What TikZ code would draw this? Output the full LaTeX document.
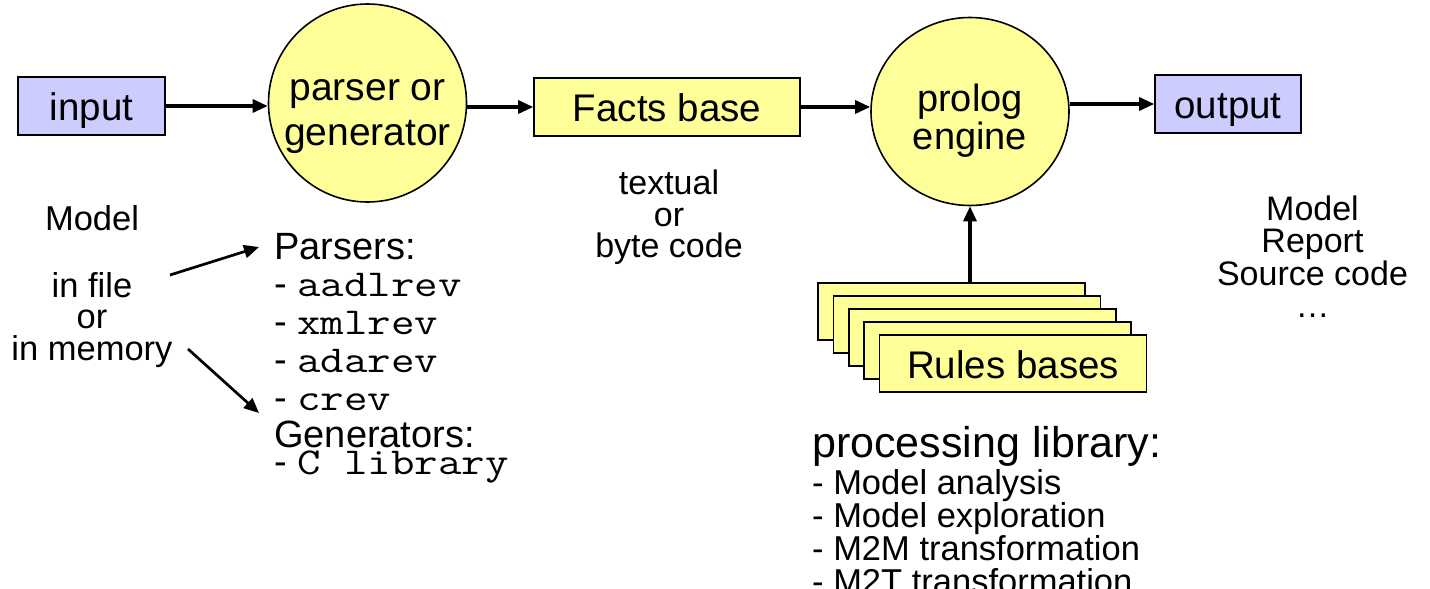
\documentclass[tikz,border=0pt]{standalone}
\usepackage{fontspec}
\usepackage{graphicx}
\setmainfont{Liberation Sans}
\usetikzlibrary{arrows.meta,shapes.geometric}
\definecolor{boxyellow}{HTML}{FFFF99}
\definecolor{boxblue}{HTML}{CCCCFF}
% typewriter names, widened to the usual 0.6em pitch
\newcommand{\prog}[1]{\scalebox{1.2}[1]{\ttfamily #1}}
% fixes the height of a first line without adding depth
\newcommand{\topstrut}{\rule{0pt}{0.7\baselineskip}}
\tikzset{
  boxbase/.style={draw, line width=1.6pt, rectangle, inner sep=0pt,
    minimum height=58pt, text height=29pt, text depth=0pt,
    font=\fontsize{38.5}{44}\selectfont},
  iobox/.style={boxbase, fill=boxblue},
  databox/.style={boxbase, fill=boxyellow},
  rulebox/.style={databox, minimum width=267pt, minimum height=57.5pt},
  engine/.style={draw, line width=1.6pt, fill=boxyellow, inner sep=0pt},
  txt/.style={inner sep=0pt, anchor=north},
  arr/.style={line width=3.1pt, -{Triangle[length=15pt,width=13pt]}},
}
\begin{document}
\begin{tikzpicture}[x=1pt,y=-1pt]
\useasboundingbox (0,0) rectangle (1430,589);

% main chain
\node[iobox, minimum width=147pt] (input) at (91.5,106) {input};
\node[engine, circle, minimum size=198pt] (parser) at (367.5,103) {};
\node[txt, align=center, font=\fontsize{39}{45}\selectfont] (parsertext) at (367.5,68.5) {\topstrut parser or\\generator};
\node[databox, minimum width=266pt] (facts) at (667,107) {Facts base};
\node[engine, ellipse, minimum width=198pt, minimum height=188pt] (prolog) at (970,111.5) {};
\node[txt, align=center, font=\fontsize{38}{38}\selectfont] (prologtext) at (970,83.4) {\topstrut prolog\\engine};
\node[iobox, minimum width=146pt] (output) at (1228,104) {output};

\draw[arr] (input.east) -- (input.east -| parser.west);
\draw[arr] (facts.west -| parser.east) -- (facts.west);
\draw[arr] (facts.east) -- (facts.east -| prolog.west);
\draw[arr] (output.west -| prolog.east) -- (output.west);

% stack of rule bases
\foreach \i in {0,...,3}
  \node[rulebox] (rules\i) at ({951.5+15.4*\i},{311.5+13*\i}) {};
\node[rulebox] (rules) at (1013.1,363.5) {Rules bases};
\draw[arr] (prolog |- rules0.north) -- (prolog.south);

% annotations
\node[txt, align=center, font=\fontsize{34}{31.5}\selectfont] (facttext) at (669,170) {\topstrut textual\\or\\byte code};
\node[inner sep=0pt, anchor=base, font=\fontsize{34.5}{31.5}\selectfont] (model) at (92,230) {Model};
\node[txt, align=center, font=\fontsize{34.5}{31.5}\selectfont] (where) at (92,272) {\topstrut in file\\or\\in memory};
\node[txt, align=center, font=\fontsize{34}{32.5}\selectfont] (results) at (1312.5,195.3) {\topstrut Model\\Report\\Source code\\\dots};

\node[txt, anchor=north west, align=left, font=\fontsize{38}{37.75}\selectfont] (tools) at (274,232.6)
  {\topstrut Parsers:\\- \prog{aadlrev}\\- \prog{xmlrev}\\- \prog{adarev}\\- \prog{crev}\\Generators:\\[-11.5pt]- \prog{C library}};

\node[inner sep=0pt, anchor=base west, font=\fontsize{43}{44}\selectfont] (libtitle) at (812,457) {processing library:};
\node[txt, anchor=north west, align=left, font=\fontsize{34.5}{33}\selectfont] (libitems) at (812,468.9)
  {\topstrut - Model analysis\\- Model exploration\\- M2M transformation\\- M2T transformation};

% model location to tool lists
\coordinate (fromfile) at (170,275);
\coordinate (toparsers) at (259,247);
\coordinate (frommemory) at (188,349);
\coordinate (togenerators) at (259,413);
\draw[arr, line width=2.7pt] (fromfile) -- (toparsers);
\draw[arr, line width=2.7pt] (frommemory) -- (togenerators);
\end{tikzpicture}
\end{document}
